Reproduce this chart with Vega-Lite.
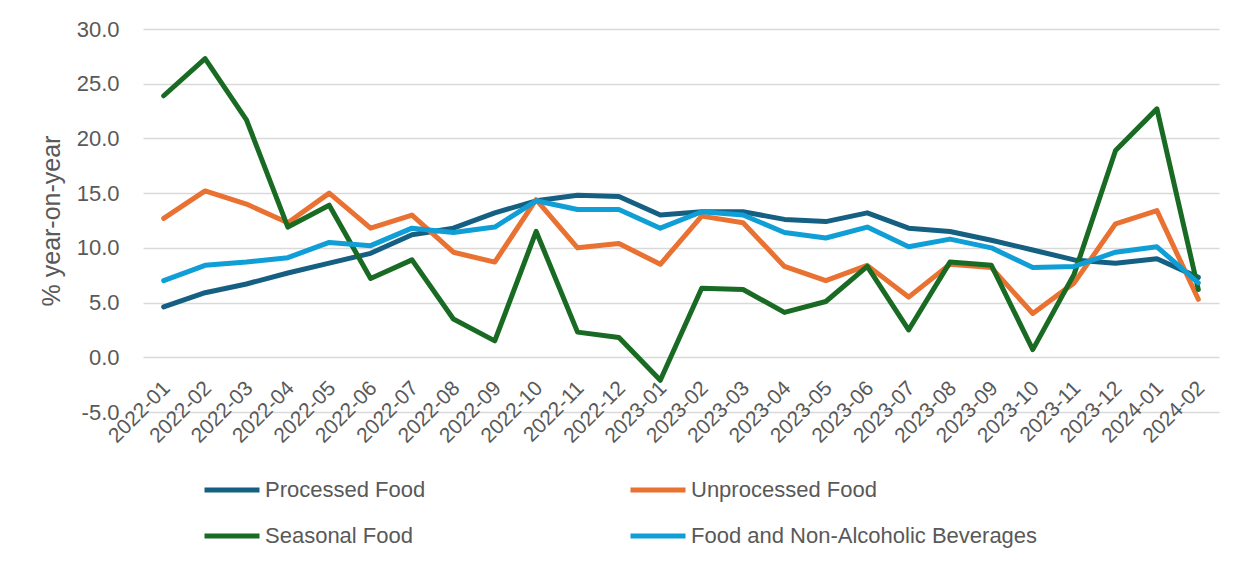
{
  "$schema": "https://vega.github.io/schema/vega-lite/v6.json",
  "autosize": {"type": "none"},
  "width": 1076,
  "height": 383,
  "padding": {"left": 143, "top": 29, "right": 30, "bottom": 159},
  "background": "white",
  "config": {
    "view": {"stroke": null},
    "font": "Liberation Sans",
    "axis": {"labelColor": "#595959", "titleColor": "#595959", "labelFont": "Liberation Sans", "titleFont": "Liberation Sans"},
    "legend": {"labelFont": "Liberation Sans", "labelColor": "#595959"}
  },
  "data": {"values": [
    {"month": "2022-01", "series": "Processed Food", "value": 4.6},
    {"month": "2022-02", "series": "Processed Food", "value": 5.9},
    {"month": "2022-03", "series": "Processed Food", "value": 6.7},
    {"month": "2022-04", "series": "Processed Food", "value": 7.7},
    {"month": "2022-05", "series": "Processed Food", "value": 8.6},
    {"month": "2022-06", "series": "Processed Food", "value": 9.5},
    {"month": "2022-07", "series": "Processed Food", "value": 11.2},
    {"month": "2022-08", "series": "Processed Food", "value": 11.8},
    {"month": "2022-09", "series": "Processed Food", "value": 13.2},
    {"month": "2022-10", "series": "Processed Food", "value": 14.3},
    {"month": "2022-11", "series": "Processed Food", "value": 14.8},
    {"month": "2022-12", "series": "Processed Food", "value": 14.7},
    {"month": "2023-01", "series": "Processed Food", "value": 13.0},
    {"month": "2023-02", "series": "Processed Food", "value": 13.3},
    {"month": "2023-03", "series": "Processed Food", "value": 13.3},
    {"month": "2023-04", "series": "Processed Food", "value": 12.6},
    {"month": "2023-05", "series": "Processed Food", "value": 12.4},
    {"month": "2023-06", "series": "Processed Food", "value": 13.2},
    {"month": "2023-07", "series": "Processed Food", "value": 11.8},
    {"month": "2023-08", "series": "Processed Food", "value": 11.5},
    {"month": "2023-09", "series": "Processed Food", "value": 10.7},
    {"month": "2023-10", "series": "Processed Food", "value": 9.8},
    {"month": "2023-11", "series": "Processed Food", "value": 8.9},
    {"month": "2023-12", "series": "Processed Food", "value": 8.6},
    {"month": "2024-01", "series": "Processed Food", "value": 9.0},
    {"month": "2024-02", "series": "Processed Food", "value": 7.3},
    {"month": "2022-01", "series": "Unprocessed Food", "value": 12.7},
    {"month": "2022-02", "series": "Unprocessed Food", "value": 15.2},
    {"month": "2022-03", "series": "Unprocessed Food", "value": 14.0},
    {"month": "2022-04", "series": "Unprocessed Food", "value": 12.3},
    {"month": "2022-05", "series": "Unprocessed Food", "value": 15.0},
    {"month": "2022-06", "series": "Unprocessed Food", "value": 11.8},
    {"month": "2022-07", "series": "Unprocessed Food", "value": 13.0},
    {"month": "2022-08", "series": "Unprocessed Food", "value": 9.6},
    {"month": "2022-09", "series": "Unprocessed Food", "value": 8.7},
    {"month": "2022-10", "series": "Unprocessed Food", "value": 14.4},
    {"month": "2022-11", "series": "Unprocessed Food", "value": 10.0},
    {"month": "2022-12", "series": "Unprocessed Food", "value": 10.4},
    {"month": "2023-01", "series": "Unprocessed Food", "value": 8.5},
    {"month": "2023-02", "series": "Unprocessed Food", "value": 12.9},
    {"month": "2023-03", "series": "Unprocessed Food", "value": 12.3},
    {"month": "2023-04", "series": "Unprocessed Food", "value": 8.3},
    {"month": "2023-05", "series": "Unprocessed Food", "value": 7.0},
    {"month": "2023-06", "series": "Unprocessed Food", "value": 8.4},
    {"month": "2023-07", "series": "Unprocessed Food", "value": 5.5},
    {"month": "2023-08", "series": "Unprocessed Food", "value": 8.5},
    {"month": "2023-09", "series": "Unprocessed Food", "value": 8.2},
    {"month": "2023-10", "series": "Unprocessed Food", "value": 4.0},
    {"month": "2023-11", "series": "Unprocessed Food", "value": 6.8},
    {"month": "2023-12", "series": "Unprocessed Food", "value": 12.2},
    {"month": "2024-01", "series": "Unprocessed Food", "value": 13.4},
    {"month": "2024-02", "series": "Unprocessed Food", "value": 5.3},
    {"month": "2022-01", "series": "Seasonal Food", "value": 23.9},
    {"month": "2022-02", "series": "Seasonal Food", "value": 27.3},
    {"month": "2022-03", "series": "Seasonal Food", "value": 21.7},
    {"month": "2022-04", "series": "Seasonal Food", "value": 11.9},
    {"month": "2022-05", "series": "Seasonal Food", "value": 13.9},
    {"month": "2022-06", "series": "Seasonal Food", "value": 7.2},
    {"month": "2022-07", "series": "Seasonal Food", "value": 8.9},
    {"month": "2022-08", "series": "Seasonal Food", "value": 3.5},
    {"month": "2022-09", "series": "Seasonal Food", "value": 1.5},
    {"month": "2022-10", "series": "Seasonal Food", "value": 11.5},
    {"month": "2022-11", "series": "Seasonal Food", "value": 2.3},
    {"month": "2022-12", "series": "Seasonal Food", "value": 1.8},
    {"month": "2023-01", "series": "Seasonal Food", "value": -2.1},
    {"month": "2023-02", "series": "Seasonal Food", "value": 6.3},
    {"month": "2023-03", "series": "Seasonal Food", "value": 6.2},
    {"month": "2023-04", "series": "Seasonal Food", "value": 4.1},
    {"month": "2023-05", "series": "Seasonal Food", "value": 5.1},
    {"month": "2023-06", "series": "Seasonal Food", "value": 8.3},
    {"month": "2023-07", "series": "Seasonal Food", "value": 2.5},
    {"month": "2023-08", "series": "Seasonal Food", "value": 8.7},
    {"month": "2023-09", "series": "Seasonal Food", "value": 8.4},
    {"month": "2023-10", "series": "Seasonal Food", "value": 0.7},
    {"month": "2023-11", "series": "Seasonal Food", "value": 7.6},
    {"month": "2023-12", "series": "Seasonal Food", "value": 18.9},
    {"month": "2024-01", "series": "Seasonal Food", "value": 22.7},
    {"month": "2024-02", "series": "Seasonal Food", "value": 6.2},
    {"month": "2022-01", "series": "Food and Non-Alcoholic Beverages", "value": 7.0},
    {"month": "2022-02", "series": "Food and Non-Alcoholic Beverages", "value": 8.4},
    {"month": "2022-03", "series": "Food and Non-Alcoholic Beverages", "value": 8.7},
    {"month": "2022-04", "series": "Food and Non-Alcoholic Beverages", "value": 9.1},
    {"month": "2022-05", "series": "Food and Non-Alcoholic Beverages", "value": 10.5},
    {"month": "2022-06", "series": "Food and Non-Alcoholic Beverages", "value": 10.2},
    {"month": "2022-07", "series": "Food and Non-Alcoholic Beverages", "value": 11.8},
    {"month": "2022-08", "series": "Food and Non-Alcoholic Beverages", "value": 11.4},
    {"month": "2022-09", "series": "Food and Non-Alcoholic Beverages", "value": 11.9},
    {"month": "2022-10", "series": "Food and Non-Alcoholic Beverages", "value": 14.3},
    {"month": "2022-11", "series": "Food and Non-Alcoholic Beverages", "value": 13.5},
    {"month": "2022-12", "series": "Food and Non-Alcoholic Beverages", "value": 13.5},
    {"month": "2023-01", "series": "Food and Non-Alcoholic Beverages", "value": 11.8},
    {"month": "2023-02", "series": "Food and Non-Alcoholic Beverages", "value": 13.3},
    {"month": "2023-03", "series": "Food and Non-Alcoholic Beverages", "value": 13.0},
    {"month": "2023-04", "series": "Food and Non-Alcoholic Beverages", "value": 11.4},
    {"month": "2023-05", "series": "Food and Non-Alcoholic Beverages", "value": 10.9},
    {"month": "2023-06", "series": "Food and Non-Alcoholic Beverages", "value": 11.9},
    {"month": "2023-07", "series": "Food and Non-Alcoholic Beverages", "value": 10.1},
    {"month": "2023-08", "series": "Food and Non-Alcoholic Beverages", "value": 10.8},
    {"month": "2023-09", "series": "Food and Non-Alcoholic Beverages", "value": 10.0},
    {"month": "2023-10", "series": "Food and Non-Alcoholic Beverages", "value": 8.2},
    {"month": "2023-11", "series": "Food and Non-Alcoholic Beverages", "value": 8.3},
    {"month": "2023-12", "series": "Food and Non-Alcoholic Beverages", "value": 9.6},
    {"month": "2024-01", "series": "Food and Non-Alcoholic Beverages", "value": 10.1},
    {"month": "2024-02", "series": "Food and Non-Alcoholic Beverages", "value": 6.8}
  ]},
  "mark": {"type": "line", "strokeWidth": 5, "strokeJoin": "round", "strokeCap": "round"},
  "encoding": {
    "x": {
      "field": "month", "type": "ordinal", "sort": null,
      "scale": {"type": "point", "padding": 0.5},
      "axis": {
        "title": null, "labelAngle": -45, "labelFontSize": 21, "domain": false, "ticks": false,
        "grid": false, "offset": -37, "labelPadding": 2, "labelOffset": -5, "labelOverlap": false
      }
    },
    "y": {
      "field": "value", "type": "quantitative",
      "scale": {"domain": [-5, 30], "nice": false, "zero": false},
      "axis": {
        "title": "% year-on-year", "titleFontSize": 25, "titleFontWeight": "normal", "titlePadding": 12,
        "values": [-5, 0, 5, 10, 15, 20, 25, 30],
        "labelExpr": "replace(format(datum.value, '.1f'), '\u2212', '-')",
        "labelFontSize": 22, "labelPadding": 24, "domain": false, "ticks": false,
        "grid": true, "gridColor": "#D9D9D9", "gridWidth": 1.5
      }
    },
    "color": {
      "field": "series", "type": "nominal",
      "scale": {
        "domain": ["Processed Food", "Unprocessed Food", "Seasonal Food", "Food and Non-Alcoholic Beverages"],
        "range": ["#156082", "#E97132", "#196B24", "#0F9ED5"]
      },
      "legend": {
        "title": null, "orient": "none", "legendX": 59, "legendY": 431, "direction": "horizontal", "columns": 2,
        "symbolType": "stroke", "symbolSize": 3025, "symbolStrokeWidth": 5, "labelFontSize": 22, "labelLimit": 0,
        "labelOffset": 3, "columnPadding": 194, "rowPadding": 5, "padding": 0
      }
    },
    "order": {"field": "series"}
  }
}
